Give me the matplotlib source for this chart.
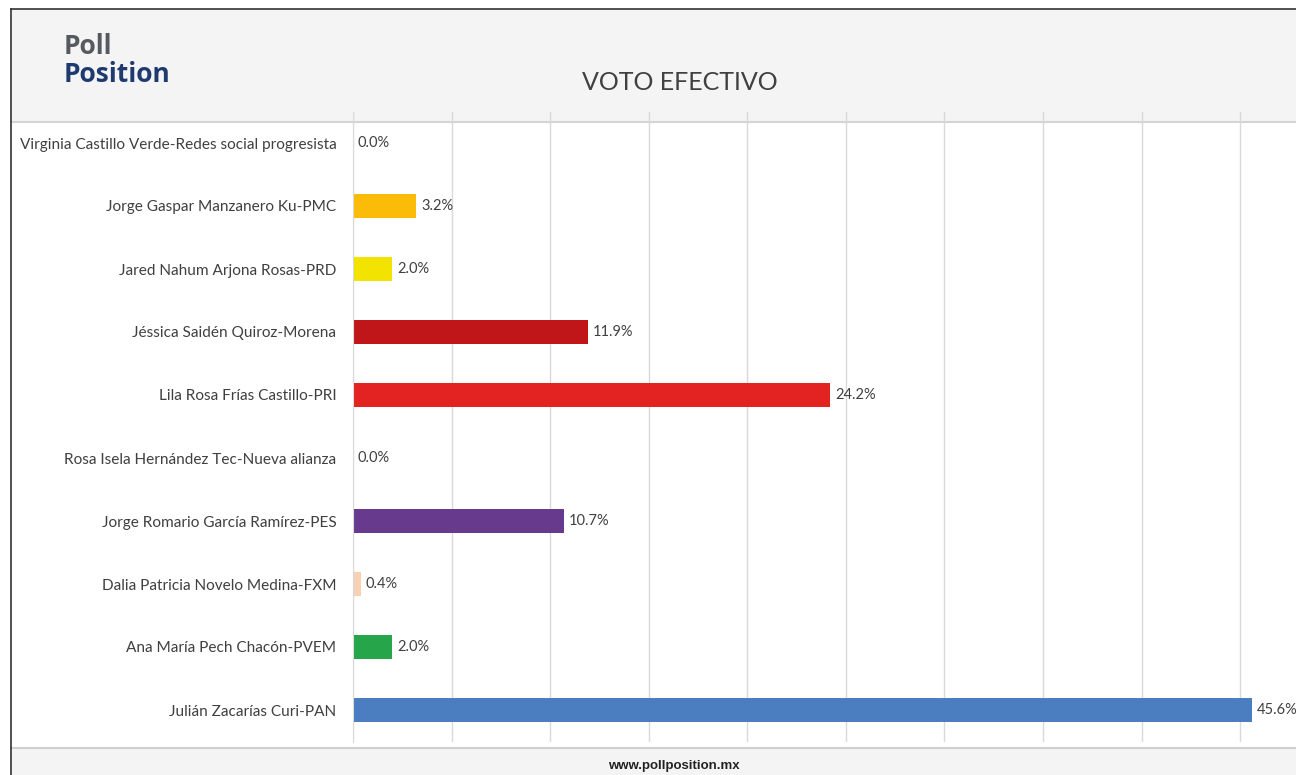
import matplotlib.pyplot as plt
from matplotlib.patches import Rectangle
from matplotlib.lines import Line2D

# datos, de arriba hacia abajo
candidatos = [
    "Virginia Castillo Verde-Redes social progresista",
    "Jorge Gaspar Manzanero Ku-PMC",
    "Jared Nahum Arjona Rosas-PRD",
    "Jéssica Saidén Quiroz-Morena",
    "Lila Rosa Frías Castillo-PRI",
    "Rosa Isela Hernández Tec-Nueva alianza",
    "Jorge Romario García Ramírez-PES",
    "Dalia Patricia Novelo Medina-FXM",
    "Ana María Pech Chacón-PVEM",
    "Julián Zacarías Curi-PAN",
]
porcentajes = [0.0, 3.2, 2.0, 11.9, 24.2, 0.0, 10.7, 0.4, 2.0, 45.6]
colores = ["#7f7f7f", "#fbbc09", "#f2e300", "#c0161a", "#e32222",
           "#7f7f7f", "#673a8e", "#f8d0b2", "#27a54b", "#4a7ec0"]

W, H = 1296, 775
fig = plt.figure(figsize=(W / 100, H / 100), dpi=100, facecolor="white")

def fx(px):
    return px / W

def fy(py):
    return 1 - py / H

# bandas de fondo
fig.patches.append(Rectangle((fx(11), fy(122)), 1, fy(9) - fy(122),
                             transform=fig.transFigure, facecolor="#f4f4f4",
                             edgecolor="none", zorder=0))
fig.patches.append(Rectangle((fx(11), 0), 1, fy(748),
                             transform=fig.transFigure, facecolor="#f4f4f4",
                             edgecolor="none", zorder=0))
fig.lines.append(Line2D([fx(11), 1], [fy(122), fy(122)], transform=fig.transFigure,
                        color="#d4d4d4", lw=1.5, zorder=1))
fig.lines.append(Line2D([fx(11), 1], [fy(748), fy(748)], transform=fig.transFigure,
                        color="#cfcfcf", lw=1.5, zorder=1))
# marco
fig.lines.append(Line2D([fx(11), fx(11)], [0, fy(9)], transform=fig.transFigure,
                        color="#333333", lw=1.2, zorder=3))
fig.lines.append(Line2D([fx(11), 1], [fy(9), fy(9)], transform=fig.transFigure,
                        color="#333333", lw=1.2, zorder=3))

px_pct = (1252 - 353) / 45.6
ax = fig.add_axes([fx(353), fy(741.5), 50 * px_pct / W, (741.5 - 111.5) / H])
ax.set_facecolor("none")
ax.set_zorder(2)

y = list(range(len(candidatos)))
ax.barh(y, porcentajes, height=0.37, color=colores, zorder=2)
for yi, v in zip(y, porcentajes):
    ax.text(v + 0.25, yi, f"{v:.1f}%", va="center", ha="left",
            fontsize=10.5, color="#404040", family="Lato")

ax.set_xlim(0, 50)
ax.set_ylim(9.5, -0.5)
ax.set_xticks(range(0, 50, 5))
ax.set_xticklabels([])
ax.grid(axis="x", color="#d9d9d9", lw=1, zorder=0)
ax.tick_params(length=0)
ax.set_yticks(y)
ax.set_yticklabels(candidatos, fontsize=11.1, color="#404040", family="Lato")
ax.tick_params(axis="y", pad=12)
for s in ["top", "right", "bottom"]:
    ax.spines[s].set_visible(False)
ax.spines["left"].set_color("#d9d9d9")

fig.text(fx(680), fy(83), "VOTO EFECTIVO", ha="center", va="center",
         fontsize=18, color="#404040", family="Lato")

# logo
fig.text(fx(64), fy(47), "Poll", ha="left", va="center", fontsize=19,
         fontweight="bold", color="#555a60", family="Open Sans")
fig.text(fx(64), fy(74), "Position", ha="left", va="center", fontsize=19,
         fontweight="bold", color="#1e3a6e", family="Open Sans")

fig.text(fx(674), fy(766), "www.pollposition.mx", ha="center", va="center",
         fontsize=9.5, fontweight="bold", color="#222222", family="Liberation Sans")

fig.savefig("out.png", dpi=100, facecolor="white")
